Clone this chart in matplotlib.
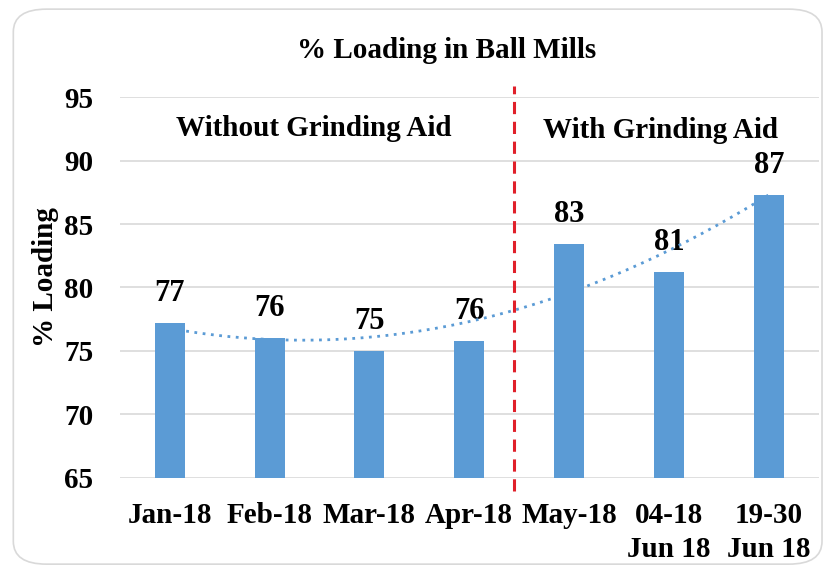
import numpy as np
import matplotlib.pyplot as plt
from matplotlib.patches import FancyBboxPatch

categories = ['Jan-18', 'Feb-18', 'Mar-18', 'Apr-18', 'May-18', '04-18\nJun 18', '19-30\nJun 18']
loading = [77.2, 76.0, 75.0, 75.8, 83.4, 81.2, 87.3]
labels = ['77', '76', '75', '76', '83', '81', '87']
yticks = [65, 70, 75, 80, 85, 90, 95]

plt.rcParams['font.family'] = ['Liberation Serif', 'DejaVu Serif']
plt.rcParams['font.weight'] = 'bold'

fig = plt.figure(figsize=(8.32, 5.71), dpi=100)
ax = fig.add_axes([0.144, 0.163, 0.840, 0.667])

x = np.arange(len(categories))
ax.bar(x, loading, width=0.3, color='#5B9BD5', zorder=3)

# 2nd order polynomial trendline, like Excel
coef = np.polyfit(x, loading, 2)
xs = np.linspace(0, len(x) - 1, 200)
ax.plot(xs, np.polyval(coef, xs), color='#5B9BD5', linestyle=(0, (1, 2)), linewidth=2, zorder=4)

for xi, v, lab in zip(x, loading, labels):
    ax.annotate(lab, (xi, v), xytext=(0, 11), textcoords='offset points',
                ha='center', va='bottom', fontsize=22, fontweight='bold')

ax.set_ylim(65, 95)
ax.set_xlim(-0.5, len(x) - 0.5)
ax.set_yticks(yticks)
ax.set_xticks(x)
ax.set_xticklabels(categories, fontsize=21, fontweight='bold', linespacing=1.35)
ax.tick_params(axis='y', labelsize=21, length=0, pad=19)
ax.tick_params(axis='x', length=0, pad=17)
ax.grid(axis='y', color='#d9d9d9', linewidth=1.2, zorder=0)
for s in ax.spines.values():
    s.set_visible(False)

ax.axvline(3.45, ymin=-0.035, ymax=1.03, color='#e0202a', linestyle=(0, (4, 2.5)),
           linewidth=2.2, clip_on=False, zorder=5)

ax.set_ylabel('% Loading', fontsize=21, fontweight='bold')
ax.yaxis.set_label_coords(-0.087, 0.528)
ax.text(1.44, 92.5, 'Without Grinding Aid', ha='center', va='center', fontsize=21, fontweight='bold')
ax.text(4.92, 92.4, 'With Grinding Aid', ha='center', va='center', fontsize=21, fontweight='bold')
fig.text(0.537, 0.912, '% Loading in Ball Mills', ha='center', va='center', fontsize=21, fontweight='bold')

border = FancyBboxPatch((0.016, 0.012), 0.972, 0.972, boxstyle='round,pad=0,rounding_size=0.04',
                        transform=fig.transFigure, facecolor='none', edgecolor='#d9d9d9',
                        linewidth=1.2)
fig.patches.append(border)

fig.savefig('out.png', dpi=100)
